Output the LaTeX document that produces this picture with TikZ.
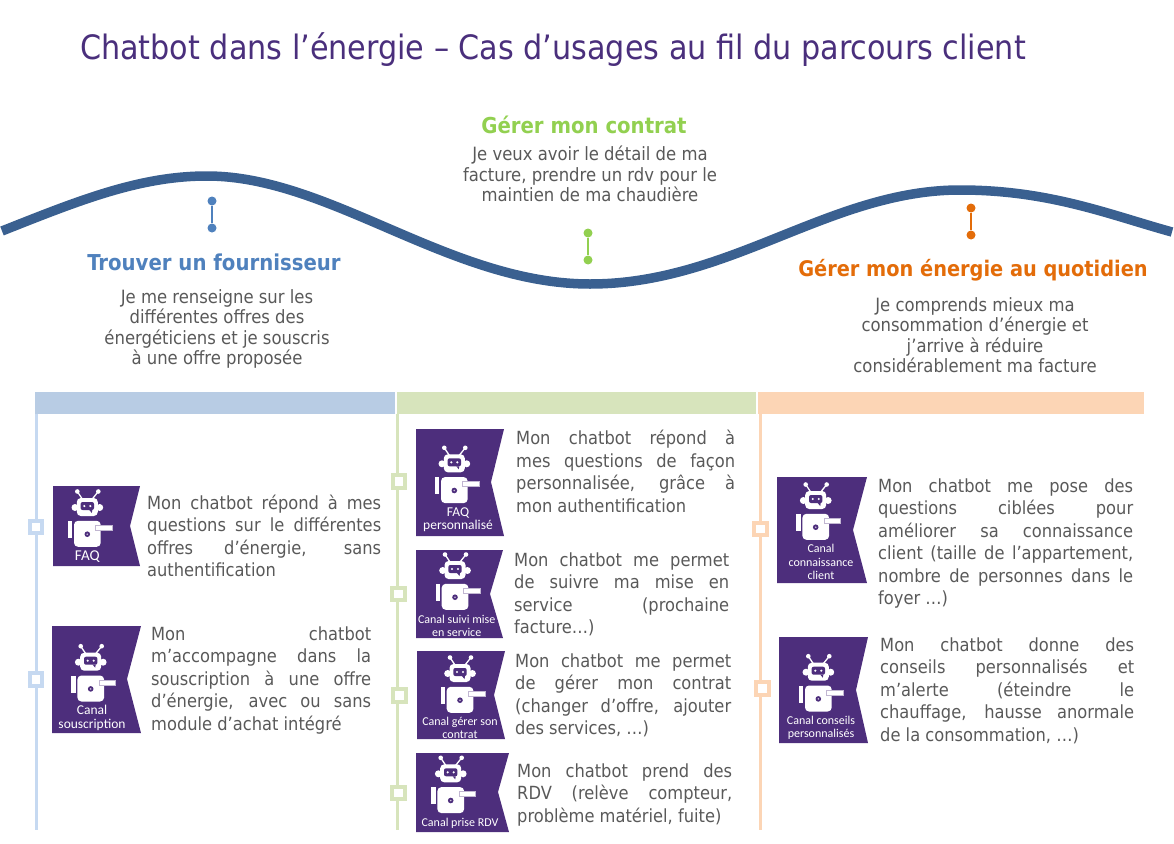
\documentclass[tikz,border=0pt]{standalone}
\usepackage{fontspec}
\setmainfont{DejaVu Sans Condensed}
\newfontfamily\labelfont{Carlito}
\definecolor{titlepurple}{HTML}{4A2F7C}
\definecolor{flagpurple}{HTML}{4D2E7C}
\definecolor{wavecol}{HTML}{3A6090}
\definecolor{grey}{HTML}{595959}
\definecolor{blueA}{HTML}{4F81BD}
\definecolor{greenA}{HTML}{92D050}
\definecolor{orangeA}{HTML}{E36C09}
\definecolor{blueB}{HTML}{B8CCE4}
\definecolor{blueC}{HTML}{C6D9F1}
\definecolor{greenB}{HTML}{D7E4BC}
\definecolor{orangeB}{HTML}{FCD5B5}
\tikzset{
  head/.style={font=\bfseries\fontsize{21.9}{26}\selectfont, inner sep=0pt},
  intro/.style={font=\fontsize{18.3}{20.5}\selectfont, text=grey, align=center, inner sep=0pt},
  body/.style={font=\fontsize{18.1}{22.5}\selectfont, text=grey, align=justify, anchor=north west, inner sep=0pt},
  tag/.style={font=\labelfont\fontsize{13.5}{13.5}\selectfont, text=white, align=center, inner sep=0pt},
  tagsmall/.style={font=\labelfont\fontsize{12}{13.2}\selectfont, text=white, align=center, inner sep=0pt},
  band/.style={minimum height=22pt, inner sep=0pt, anchor=north west},
  tick/.style={draw, line width=4pt, fill=white, minimum size=12.5pt, inner sep=0pt},
  dot/.style={circle, minimum size=9pt, inner sep=0pt},
  flag/.style={fill=flagpurple},
  pics/robot/.style={code={
    \draw[white, line width=1.3pt] (-5,-8) -- (-10,-15.5) (5,-8) -- (11,-15.5);
    \fill[white] (-10,-15.5) circle (2.3pt) (11,-15.5) circle (2.3pt);
    \fill[white] (-12.3,0.5) circle (3.5pt) (12.4,0.5) circle (3.5pt);
    \fill[white, rounded corners=4pt] (-10.5,-9) rectangle (10.5,9);
    \fill[flagpurple, rounded corners=2pt] (-6.7,-5) rectangle (6.7,3);
    \fill[flagpurple] (2,3) -- (5,3) -- (4.5,6) -- cycle;
    \fill[white] (-3,-1) circle (1.2pt) (3,-1) circle (1.2pt);
    \fill[white, rounded corners=4pt] (-13.3,13.8) rectangle (13.4,39.8);
    \fill[white] (-19.3,13.8) rectangle (-15,30.8);
    \fill[flagpurple] (0,27.2) circle (2.8pt);
    \fill[white!70!flagpurple] (0,27.2) circle (.9pt);
    \draw[draw=flagpurple!35, fill=white, line width=.8pt] (8.4,18.5) rectangle (25,23.5);
  }}
}
\begin{document}
\begin{tikzpicture}[x=1pt,y=-1pt]
\useasboundingbox (0,0) rectangle (1174,843);

\node[font=\fontsize{33.6}{36}\selectfont, text=titlepurple, inner sep=0pt] (title) at (553,50) {Chatbot dans l’énergie – Cas d’usages au fil du parcours client};

% wave
\draw[wavecol, line width=9.5pt] (2,231) .. controls (80,200) and (140,176) .. (207,176)
  .. controls (330,176) and (450,284) .. (590,284)
  .. controls (730,284) and (830,190) .. (960,190)
  .. controls (1050,190) and (1110,215) .. (1172,232);

\node[dot, fill=blueA] (pinAtop) at (212,201) {};
\node[dot, fill=blueA] (pinAbot) at (212,228) {};
\node[dot, fill=greenA] (pinBtop) at (588,233) {};
\node[dot, fill=greenA] (pinBbot) at (588,260) {};
\node[dot, fill=orangeA] (pinCtop) at (971,208) {};
\node[dot, fill=orangeA] (pinCbot) at (971,235) {};
\draw[blueA, line width=2pt] (pinAtop) -- (pinAbot);
\draw[greenA, line width=2pt] (pinBtop) -- (pinBbot);
\draw[orangeA, line width=2pt] (pinCtop) -- (pinCbot);

\node[head, text=blueA] (headA) at (214,262) {Trouver un fournisseur};
\node[head, text=greenA] (headB) at (584,125) {Gérer mon contrat};
\node[head, text=orangeA, font=\bfseries\fontsize{21.5}{26}\selectfont] (headC) at (973,270.5) {Gérer mon énergie au quotidien};

\node[intro] (introA) at (217,329) {Je me renseigne sur les\\différentes offres des\\énergéticiens et je souscris\\à une offre proposée};
\node[intro] (introB) at (590,174) {Je veux avoir le détail de ma\\facture, prendre un rdv pour le\\maintien de ma chaudière};
\node[intro] (introC) at (975,335) {Je comprends mieux ma\\consommation d’énergie et\\j’arrive à réduire\\considérablement ma facture};

% columns
\node[band, fill=blueB, minimum width=360pt] (bandA) at (35,392) {};
\node[band, fill=greenB, minimum width=359pt] (bandB) at (397,392) {};
\node[band, fill=orangeB, minimum width=386pt] (bandC) at (758,392) {};
\coordinate (endA) at (36.7,830);
\coordinate (endB) at (397.7,830);
\coordinate (endC) at (760,830);
\draw[blueC, line width=3pt] (36.7,414) -- (endA);
\draw[greenB, line width=3pt] (397.7,414) -- (endB);
\draw[orangeB, line width=3pt] (760,414) -- (endC);

\node[tick, draw=blueC] (tickA) at (35.8,527) {};
\node[tick, draw=blueC] (tickB) at (35.8,679.3) {};
\node[tick, draw=greenB] (tickC) at (398.8,481.3) {};
\node[tick, draw=greenB] (tickD) at (398.3,593.8) {};
\node[tick, draw=greenB] (tickE) at (399.7,695.3) {};
\node[tick, draw=greenB] (tickF) at (398.7,792.8) {};
\node[tick, draw=orangeB] (tickG) at (760.3,529.2) {};
\node[tick, draw=orangeB] (tickH) at (762.7,688.7) {};

% flags
\fill[flag] (53,486) -- (140,486) -- (130,526) -- (140,566) -- (53,566) -- cycle;
\fill[flag] (52,626) -- (141,626) -- (127,679) -- (141,733) -- (52,733) -- cycle;
\fill[flag] (416,429) -- (504,429) -- (491,482) -- (504,536) -- (416,536) -- cycle;
\fill[flag] (416,550) -- (503,550) -- (490,594) -- (503,638) -- (416,638) -- cycle;
\fill[flag] (417,651) -- (505,651) -- (494,695) -- (505,739) -- (417,739) -- cycle;
\fill[flag] (416,753) -- (509,753) -- (498,792) -- (509,832) -- (416,832) -- cycle;
\fill[flag] (777,477) -- (867,477) -- (853,530) -- (867,583) -- (777,583) -- cycle;
\fill[flag] (779,637) -- (868,637) -- (856,690) -- (868,743) -- (779,743) -- cycle;

\pic at (87.3,507) {robot};
\pic at (90.7,661.7) {robot};
\pic at (454.3,463.3) {robot};
\pic at (455,570) {robot};
\pic at (460,673) {robot};
\pic at (450.7,773.3) {robot};
\pic at (815.7,500) {robot};
\pic at (818.3,671.7) {robot};

\node[tag, font=\labelfont\fontsize{15}{15}\selectfont] (tagA) at (87.3,557) {FAQ};
\node[tag] (tagB) at (92,718) {Canal\\souscription};
\node[tag] (tagC) at (458,519.5) {FAQ\\personnalisé};
\node[tagsmall] (tagD) at (456.7,625.5) {Canal suivi mise\\en service};
\node[tagsmall] (tagE) at (460,728) {Canal gérer son\\contrat};
\node[tagsmall] (tagF) at (460,823) {Canal prise RDV};
\node[tagsmall] (tagG) at (821,562) {Canal\\connaissance\\client};
\node[tagsmall] (tagH) at (821,727.5) {Canal conseils\\personnalisés};

% texts
\node[body, text width=234pt] (textA) at (147,494.5) {Mon chatbot répond à mes\linebreak questions sur le différentes\linebreak offres d’énergie, sans\linebreak authentification};
\node[body, text width=220pt] (textB) at (151,626.5) {Mon chatbot\linebreak m’accompagne dans la\linebreak souscription à une offre\linebreak d’énergie, avec ou sans\linebreak module d’achat intégré};
\node[body, text width=219pt] (textC) at (516,430) {Mon chatbot répond à\linebreak mes questions de façon\linebreak personnalisée, grâce à\linebreak mon authentification};
\node[body, text width=215pt] (textD) at (514,552.5) {Mon chatbot me permet\linebreak de suivre ma mise en\linebreak service (prochaine\linebreak facture…)};
\node[body, text width=216pt] (textE) at (515,653.5) {Mon chatbot me permet\linebreak de gérer mon contrat\linebreak (changer d’offre, ajouter\linebreak des services, …)};
\node[body, text width=215pt] (textF) at (517,763.5) {Mon chatbot prend des\linebreak RDV (relève compteur,\linebreak problème matériel, fuite)};
\node[body, text width=255pt] (textG) at (878,478.5) {Mon chatbot me pose des\linebreak questions ciblées pour\linebreak améliorer sa connaissance\linebreak client (taille de l’appartement,\linebreak nombre de personnes dans le\linebreak foyer …)};
\node[body, text width=254pt] (textH) at (880,637.5) {Mon chatbot donne des\linebreak conseils personnalisés et\linebreak m’alerte (éteindre le\linebreak chauffage, hausse anormale\linebreak de la consommation, …)};
\end{tikzpicture}
\end{document}
